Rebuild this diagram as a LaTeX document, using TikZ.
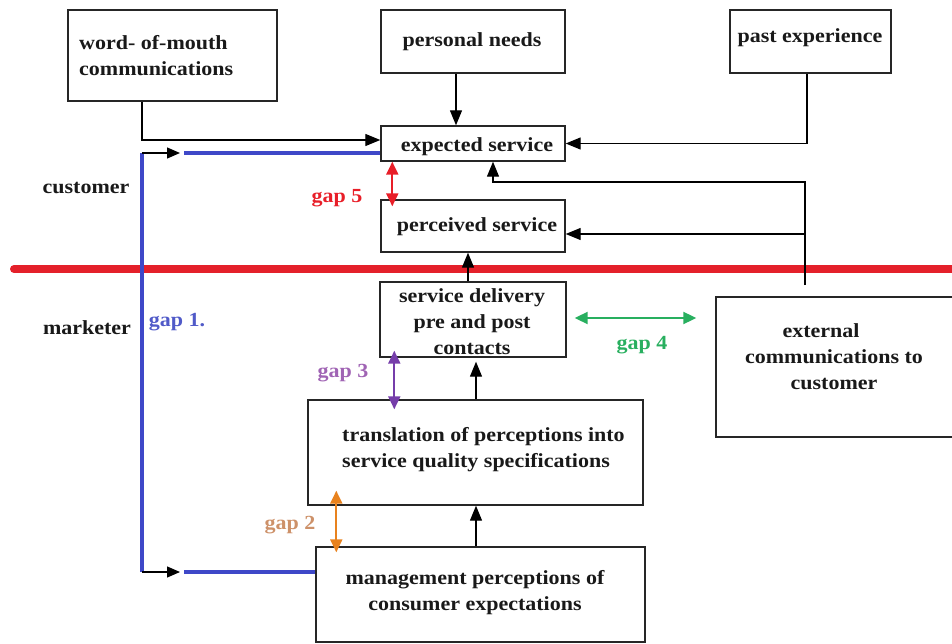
\documentclass[tikz,border=0pt]{standalone}
\usepackage{fontspec}
\setmainfont{Liberation Serif}[FakeStretch=1.1]
\usetikzlibrary{arrows.meta,calc}
\definecolor{gOne}{RGB}{62,72,200}
\definecolor{gOneT}{RGB}{80,90,200}
\definecolor{gFive}{RGB}{232,30,40}
\definecolor{gFour}{RGB}{40,175,95}
\definecolor{gThree}{RGB}{118,62,170}
\definecolor{gThreeT}{RGB}{160,100,180}
\definecolor{gTwo}{RGB}{232,130,30}
\definecolor{gTwoT}{RGB}{205,145,105}
\definecolor{sep}{RGB}{228,32,42}
\tikzset{
  box/.style={draw=black!85, line width=1.4pt, inner sep=0pt},
  txt/.style={font=\fontsize{20}{26}\selectfont\bfseries, inner sep=0pt, text=black!90},
  lbl/.style={font=\fontsize{20}{26}\selectfont\bfseries, inner sep=0pt},
  arr/.style={line width=1.3pt, draw=black, -{Triangle[length=15pt,width=12pt]}},
  sarr/.style={line width=1.2pt, draw=black, -{Triangle[length=13pt,width=11pt]}},
  dbl/.style={line width=2pt, {Triangle[length=13pt,width=12pt]}-{Triangle[length=13pt,width=12pt]}},
  blueline/.style={line width=4pt, draw=gOne},
}
\begin{document}
\begin{tikzpicture}[x=1pt,y=-1pt]
\useasboundingbox (0,0) rectangle (952,644);
% separator
\draw[sep, line width=8pt, line cap=round] (14,269) -- (980,269);
% boxes
\node[box, minimum width=209pt, minimum height=91pt] (wom) at (172.5,55.5) {};
\node[box, minimum width=184pt, minimum height=63pt] (pn) at (473,41.5) {};
\node[box, minimum width=161pt, minimum height=63pt] (pe) at (810.5,41.5) {};
\node[box, minimum width=184pt, minimum height=35pt] (es) at (473,143.5) {};
\node[box, minimum width=184pt, minimum height=52pt] (ps) at (473,226) {};
\node[box, minimum width=186pt, minimum height=75pt] (sd) at (473,319.5) {};
\node[box, minimum width=335pt, minimum height=105pt] (tr) at (475.5,452.5) {};
\node[box, minimum width=329pt, minimum height=95pt] (mg) at (480.5,594.5) {};
\node[box, minimum width=250pt, minimum height=140pt] (ex) at (841,367) {};
% texts
\node[txt, anchor=west, align=left] (womT) at (79,55.5) {word- of-mouth\\communications};
\node[txt] (pnT) at (472,42) {personal needs};
\node[txt] (peT) at (810,38) {past experience};
\node[txt] (esT) at (477,147) {expected service};
\node[txt] (psT) at (477,227) {perceived service};
\node[txt, align=center] (sdT) at (472,322) {service delivery\\pre and post\\contacts};
\node[txt, anchor=west, align=left] (trT) at (342,450) {translation of perceptions into\\service quality specifications};
\node[txt, align=center] (mgT) at (475,593) {management perceptions of\\consumer expectations};
\node[txt, align=center] (exT) at (834,357) {external\hspace*{1.3em}\\communications to\\customer};
\node[txt] (cust) at (86,188) {customer};
\node[txt] (mark) at (87,328) {marketer};
% labels
\node[lbl, text=gOneT] (g1) at (177,322) {gap 1.};
\node[lbl, text=gFive] (g5) at (337,198) {gap 5};
\node[lbl, text=gThreeT] (g3) at (343,373) {gap 3};
\node[lbl, text=gFour] (g4) at (642,345) {gap 4};
\node[lbl, text=gTwoT] (g2) at (290,525) {gap 2};
% connectors
\draw[arr] ([xshift=-30.5pt]wom.south) |- ([yshift=3.5pt]es.west);
\draw[arr] ([xshift=-17pt]pn.south) -- ([xshift=-17pt]es.north);
\draw[arr] ([xshift=-3.5pt]pe.south) |- (es.east);
\coordinate (ext) at (805,285);
\coordinate (exTurn) at (805,182);
\draw[arr] (ext) -- (exTurn) -| ([xshift=20pt]es.south);
\draw[arr] ([yshift=-8pt]ps.east -| ext) -- ([yshift=-8pt]ps.east);
\draw[arr] ([xshift=-5pt]sd.north) -- ([xshift=-5pt]ps.south);
\draw[arr] ([xshift=3pt]sd.south |- tr.north) -- ([xshift=3pt,yshift=-4pt]sd.south);
\draw[arr] ([xshift=-4.5pt]mg.north) -- ([xshift=-4.5pt]mg.north |- tr.south);
% gap 1
\coordinate (g1top) at (142,153);
\coordinate (g1bot) at (142,572);
\draw[blueline] (g1top) -- (g1bot);
\draw[sarr] (g1top) -- ++(38,0);
\draw[sarr] (g1bot) -- ++(38,0);
\draw[blueline] ([xshift=42pt]g1top) -- (es.west |- g1top);
\draw[blueline] ([xshift=42pt]g1bot) -- (mg.west |- g1bot);
% gap arrows
\draw[dbl, gFive] ([xshift=12pt]es.south west) -- ([xshift=12pt,yshift=-7pt]ps.north west);
\draw[dbl, gThree] ([xshift=15pt,yshift=7pt]sd.south west) -- ([xshift=87pt,yshift=-10pt]tr.north west);
\draw[dbl, gFour] ([xshift=8pt,yshift=1.5pt]sd.east) -- ([xshift=-19pt,yshift=49pt]ex.west);
\draw[dbl, gTwo] ([xshift=29pt,yshift=15pt]tr.south west) -- ([xshift=21pt,yshift=-6pt]mg.north west);
\end{tikzpicture}
\end{document}
